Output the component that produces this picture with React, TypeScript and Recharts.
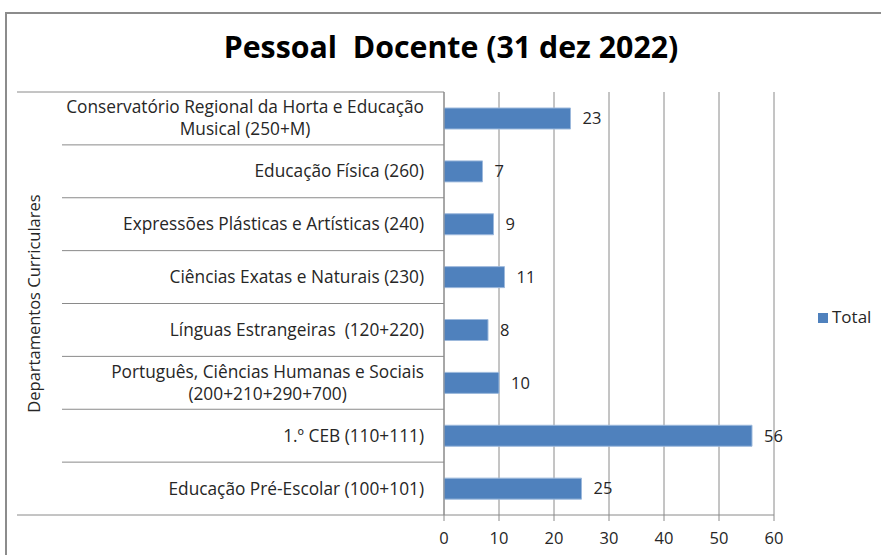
import React from 'react';
import { BarChart, Bar, XAxis, YAxis, CartesianGrid, Legend, LabelList } from 'recharts';

const categories = [
  'Conservatório Regional da Horta e Educação\nMusical (250+M)',
  'Educação Física (260)',
  'Expressões Plásticas e Artísticas (240)',
  'Ciências Exatas e Naturais (230)',
  'Línguas Estrangeiras  (120+220)',
  'Português, Ciências Humanas e Sociais\n(200+210+290+700)',
  '1.º CEB (110+111)',
  'Educação Pré-Escolar (100+101)',
];
const totals = [23, 7, 9, 11, 8, 10, 56, 25];
const xTicks = [0, 10, 20, 30, 40, 50, 60];

const data = categories.map((name, i) => ({ name, Total: totals[i] }));

const W = 881;
const H = 555;
const TOP = 92;
const AXIS_H = 40;
const Y_W = 444;
const LEGEND_W = 70;
const BAND = (H - TOP - AXIS_H) / categories.length;
const FONT = '"Open Sans", Lato, sans-serif';
const GRID = '#8a8a8a';
const TEXT = '#262626';

const CategoryTick = (props: any) => {
  const { x, y, payload, index } = props;
  const lines = String(payload.value).split('\n');
  const axisX = x + 20;
  return (
    <g>
      <foreignObject x={axisX - 440} y={y - BAND / 2} width={420} height={BAND}>
        <div
          style={{
            height: '100%',
            display: 'flex',
            alignItems: 'center',
            justifyContent: 'flex-end',
            fontFamily: FONT,
            fontSize: 17.3,
            color: TEXT,
            lineHeight: '22px',
          }}
        >
          <div style={{ textAlign: 'center', whiteSpace: 'pre' }}>
            {lines.map((l, i) => (
              <div key={i}>{l}</div>
            ))}
          </div>
        </div>
      </foreignObject>
      <line x1={index === 0 ? 17 : 62} x2={axisX} y1={y - BAND / 2} y2={y - BAND / 2} stroke={GRID} />
      {index === categories.length - 1 && (
        <line x1={17} x2={axisX} y1={y + BAND / 2} y2={y + BAND / 2} stroke={GRID} />
      )}
    </g>
  );
};

export default function App() {
  return (
    <div style={{ position: 'absolute', left: 0, top: 0, width: W, height: H, overflow: 'hidden', background: '#fff' }}>
      <div
        style={{
          position: 'absolute',
          left: 5,
          top: 12,
          width: W + 20,
          height: H + 20,
          border: '2px solid #8c8c8c',
        }}
      />
      <div
        style={{
          position: 'absolute',
          left: 0,
          width: 902,
          top: 26,
          textAlign: 'center',
          fontFamily: FONT,
          fontWeight: 'bold',
          fontSize: 30.3,
          color: '#000',
          whiteSpace: 'pre',
        }}
      >
        Pessoal  Docente (31 dez 2022)
      </div>
      <div style={{ position: 'absolute', left: 0, top: 0 }}>
        <BarChart
          width={W}
          height={H}
          layout="vertical"
          data={data}
          margin={{ top: TOP, right: W - 774 - LEGEND_W, bottom: 0, left: 0 }}
        >
          <CartesianGrid horizontal={false} stroke={GRID} />
          <XAxis
            type="number"
            domain={[0, 60]}
            ticks={xTicks}
            height={AXIS_H}
            stroke={GRID}
            tickSize={6}
            tickMargin={11}
            tick={{ fill: TEXT, fontSize: 16.5, fontFamily: FONT }}
          />
          <YAxis
            type="category"
            dataKey="name"
            width={Y_W}
            stroke={GRID}
            tickSize={0}
            tickMargin={20}
            interval={0}
            tick={<CategoryTick />}
            label={{
              content: (p: any) => {
                const vb = p.viewBox;
                const cx = vb.x + 33;
                const cy = vb.y + vb.height / 2;
                return (
                  <text
                    x={cx}
                    y={cy}
                    transform={`rotate(-90 ${cx} ${cy})`}
                    textAnchor="middle"
                    dominantBaseline="central"
                    fill={TEXT}
                    fontSize={16.5}
                    fontFamily={FONT}
                  >
                    Departamentos Curriculares
                  </text>
                );
              },
            }}
          />
          <Legend
            layout="vertical"
            align="right"
            verticalAlign="middle"
            width={LEGEND_W}
            iconType="square"
            iconSize={10}
            wrapperStyle={{ left: 818, right: 'auto', top: 305, fontFamily: FONT, fontSize: 17, whiteSpace: 'nowrap' }}
            formatter={(v: string) => <span style={{ color: TEXT }}>{v}</span>}
          />
          <Bar dataKey="Total" fill="#4F81BD" stroke="#9DB9DC" strokeWidth={1} barSize={21} isAnimationActive={false}>
            <LabelList dataKey="Total" position="right" offset={12} fill={TEXT} fontSize={16.5} fontFamily={FONT} />
          </Bar>
        </BarChart>
      </div>
    </div>
  );
}
